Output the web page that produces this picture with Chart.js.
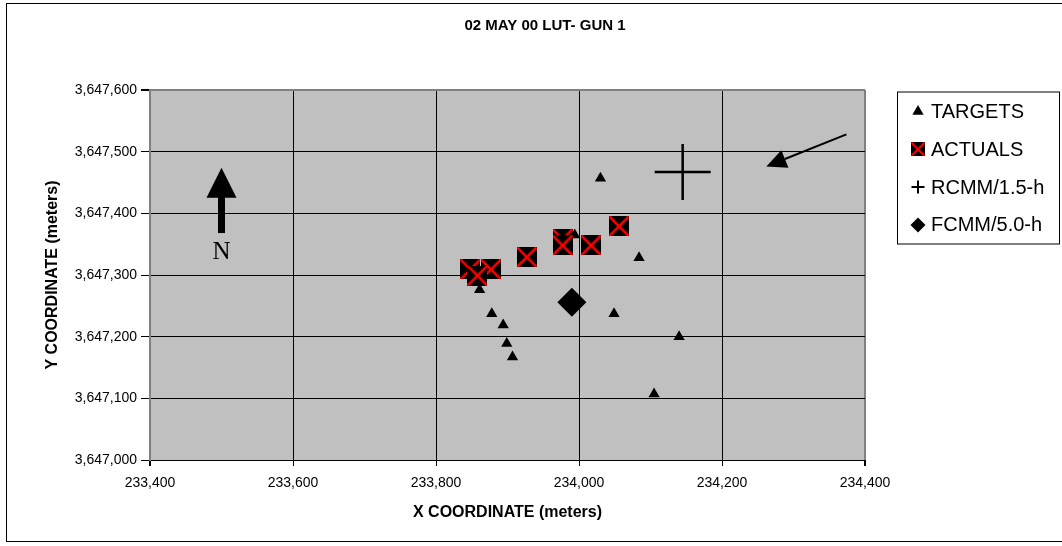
<!DOCTYPE html>
<html>
<head>
<meta charset="utf-8">
<script src="https://cdn.jsdelivr.net/npm/chart.js@4.4.0/dist/chart.umd.min.js"></script>
<style>
  body { margin: 0; background: #fff; }
  canvas { display: block; }
</style>
</head>
<body>
<canvas id="gun_chart" width="1062" height="546"></canvas>
<script>
// 図から読み取った値
const TARGET_X = [233994, 234084, 233861, 233878, 233894, 233899, 233907, 234049, 234140, 234030, 234105];
const TARGET_Y = [3647365, 3647328, 3647276, 3647237, 3647219, 3647189, 3647167, 3647237, 3647200, 3647457, 3647107];
const ACTUAL_X = [234056, 234017, 233977, 233977, 233927, 233877, 233848, 233858];
const ACTUAL_Y = [3647379, 3647348, 3647358, 3647348, 3647329, 3647309, 3647309, 3647299];
const RCMM_X = [234145];
const RCMM_Y = [3647467];
const FCMM_X = [233990];
const FCMM_Y = [3647256];
const X_RANGE = [233400, 234400, 200];
const Y_RANGE = [3647000, 3647600, 100];
const NORTH_ARROW = [233500, 3647474, 3647368, 3647336]; // x, 先端y, 根元y, 文字y
const POINTER_ARROW = [234374, 3647528, 234262, 3647476]; // 根元x,y, 先端x,y

const toPoints = (xs, ys) => xs.map((x, i) => ({ x: x, y: ys[i] }));
const fmt = (v) => v.toLocaleString('en-US');

// 黒い四角に赤い×
const actualIcon = (size) => {
  const c = document.createElement('canvas');
  c.width = size;
  c.height = size;
  const g = c.getContext('2d');
  g.fillStyle = '#000';
  g.fillRect(0, 0, size, size);
  g.strokeStyle = '#ff0000';
  g.lineWidth = size > 16 ? 2.6 : 2;
  g.beginPath();
  g.moveTo(0.5, 0.5);
  g.lineTo(size - 0.5, size - 0.5);
  g.moveTo(size - 0.5, 0.5);
  g.lineTo(0.5, size - 0.5);
  g.stroke();
  return c;
};

Chart.defaults.font.family = "'Liberation Sans', Arial, sans-serif";
Chart.defaults.color = '#000';

const LEGEND_ITEMS = [
  { text: 'TARGETS', style: 'triangle', radius: 6.5 },
  { text: 'ACTUALS', style: actualIcon(14), radius: 7 },
  { text: 'RCMM/1.5-h', style: 'cross', radius: 6.5, border: 2 },
  { text: 'FCMM/5.0-h', style: 'rectRot', radius: 7.5 },
];

const decorPlugin = {
  id: 'decor',
  beforeDraw: function(chart) {
    const ctx = chart.ctx;
    const a = chart.chartArea;
    ctx.save();
    ctx.fillStyle = '#fff';
    ctx.fillRect(0, 0, chart.width, chart.height);
    ctx.fillStyle = '#c0c0c0';
    ctx.fillRect(a.left, a.top, a.right - a.left, a.bottom - a.top);
    ctx.strokeStyle = '#000';
    ctx.lineWidth = 1;
    ctx.strokeRect(6.5, 3.5, chart.width + 10, 538);
    ctx.restore();
  },
  afterDatasetsDraw: function(chart) {
    const ctx = chart.ctx;
    const xs = chart.scales.x;
    const ys = chart.scales.y;
    ctx.save();
    ctx.fillStyle = '#000';
    ctx.strokeStyle = '#000';

    // 北矢印
    const nx = xs.getPixelForValue(NORTH_ARROW[0]);
    const tipY = ys.getPixelForValue(NORTH_ARROW[1]);
    const tailY = ys.getPixelForValue(NORTH_ARROW[2]);
    ctx.beginPath();
    ctx.moveTo(nx, tipY);
    ctx.lineTo(nx + 15, tipY + 30);
    ctx.lineTo(nx - 15, tipY + 30);
    ctx.closePath();
    ctx.fill();
    ctx.fillRect(nx - 3.5, tipY + 29, 7, tailY - tipY - 29);
    ctx.font = "25px 'Liberation Serif', serif";
    ctx.textAlign = 'center';
    ctx.textBaseline = 'middle';
    ctx.fillText('N', nx, ys.getPixelForValue(NORTH_ARROW[3]));

    // 指示矢印
    const x0 = xs.getPixelForValue(POINTER_ARROW[0]);
    const y0 = ys.getPixelForValue(POINTER_ARROW[1]);
    const x1 = xs.getPixelForValue(POINTER_ARROW[2]);
    const y1 = ys.getPixelForValue(POINTER_ARROW[3]);
    const len = Math.hypot(x1 - x0, y1 - y0);
    const ux = (x1 - x0) / len;
    const uy = (y1 - y0) / len;
    const bx = x1 - ux * 20;
    const by = y1 - uy * 20;
    ctx.lineWidth = 2;
    ctx.beginPath();
    ctx.moveTo(x0, y0);
    ctx.lineTo(bx, by);
    ctx.stroke();
    ctx.beginPath();
    ctx.moveTo(x1, y1);
    ctx.lineTo(bx - uy * 9.5, by + ux * 9.5);
    ctx.lineTo(bx + uy * 9.5, by - ux * 9.5);
    ctx.closePath();
    ctx.fill();
    ctx.restore();
  },
  afterDraw: function(chart) {
    // 凡例（枠付き）
    const ctx = chart.ctx;
    const boxLeft = chart.chartArea.right + 32;
    const boxTop = chart.chartArea.top + 1.5;
    ctx.save();
    ctx.strokeStyle = '#000';
    ctx.lineWidth = 1;
    ctx.strokeRect(boxLeft + 0.5, boxTop + 0.5, 162, 152);
    ctx.font = "20px 'Liberation Sans', Arial, sans-serif";
    ctx.textAlign = 'left';
    ctx.textBaseline = 'middle';
    LEGEND_ITEMS.forEach((item, i) => {
      const cy = boxTop + 20 + i * 37.8;
      ctx.fillStyle = '#000';
      ctx.strokeStyle = '#000';
      ctx.lineWidth = item.border || 0;
      Chart.helpers.drawPoint(ctx, {
        pointStyle: item.style,
        radius: item.radius,
        rotation: 0,
        borderWidth: item.border || 0,
      }, boxLeft + 21, cy);
      ctx.fillStyle = '#000';
      ctx.fillText(item.text, boxLeft + 34, cy + 1);
    });
    ctx.restore();
  }
};

window.onload = function () {
  const context = document.querySelector('#gun_chart').getContext('2d');
  new Chart(context, {
    type: 'scatter',
    data: {
      datasets: [
        {
          label: 'TARGETS',
          data: toPoints(TARGET_X, TARGET_Y),
          pointStyle: 'triangle',
          pointRadius: 6.5,
          backgroundColor: '#000',
          borderColor: '#000',
          borderWidth: 0,
          order: 3,
        },
        {
          label: 'ACTUALS',
          data: toPoints(ACTUAL_X, ACTUAL_Y),
          pointStyle: actualIcon(20),
          pointRadius: 10,
          order: 2,
        },
        {
          label: 'RCMM/1.5-h',
          data: toPoints(RCMM_X, RCMM_Y),
          pointStyle: 'cross',
          pointRadius: 28,
          borderColor: '#000',
          borderWidth: 2.5,
          order: 1,
        },
        {
          label: 'FCMM/5.0-h',
          data: toPoints(FCMM_X, FCMM_Y),
          pointStyle: 'rectRot',
          pointRadius: 14.5,
          backgroundColor: '#000',
          borderColor: '#000',
          borderWidth: 0,
          order: 1,
        },
      ],
    },
    options: {
      responsive: false,
      animation: false,
      devicePixelRatio: 1,
      events: [],
      layout: { padding: { left: 28, right: 0, top: 0, bottom: 0 } },
      scales: {
        x: {
          type: 'linear',
          min: X_RANGE[0],
          max: X_RANGE[1],
          ticks: { stepSize: X_RANGE[2], callback: fmt, font: { size: 14 }, padding: 9, maxRotation: 0 },
          grid: {
            color: (c) => (c.index === 0 || c.index === 5 ? '#808080' : '#000'),
            lineWidth: (c) => (c.index === 0 || c.index === 5 ? 2 : 1),
            tickColor: '#000',
            tickLength: 6,
          },
          border: { color: '#000', width: 1 },
          title: {
            display: true,
            text: 'X COORDINATE (meters)',
            font: { size: 16, weight: 'bold' },
            padding: { top: 4, bottom: 24 },
          },
          afterFit: (s) => { s.height = 86; },
        },
        y: {
          type: 'linear',
          min: Y_RANGE[0],
          max: Y_RANGE[1],
          ticks: { stepSize: Y_RANGE[2], callback: fmt, font: { size: 14 }, padding: 4 },
          grid: {
            color: (c) => (c.index === 6 ? '#808080' : '#000'),
            lineWidth: (c) => (c.index === 6 ? 2 : 1),
            tickColor: '#000',
            tickLength: 9,
          },
          border: { color: '#808080', width: 2 },
          title: {
            display: true,
            text: 'Y COORDINATE (meters)',
            font: { size: 16, weight: 'bold' },
            padding: { top: 15, bottom: 4 },
          },
          afterFit: (s) => { s.width = 122; },
        },
        // 凡例の場所をあける
        legendSpace: {
          type: 'linear',
          position: 'right',
          display: true,
          ticks: { display: false },
          grid: { display: false, drawTicks: false },
          border: { display: false },
          afterFit: (s) => { s.width = 197; },
        },
      },
      plugins: {
        legend: { display: false },
        tooltip: { enabled: false },
        title: {
          display: true,
          text: '02 MAY 00 LUT- GUN 1',
          font: { size: 15, weight: 'bold' },
          padding: { top: 17, bottom: 55 },
        },
      },
    },
    plugins: [decorPlugin],
  });
};
</script>
</body>
</html>
